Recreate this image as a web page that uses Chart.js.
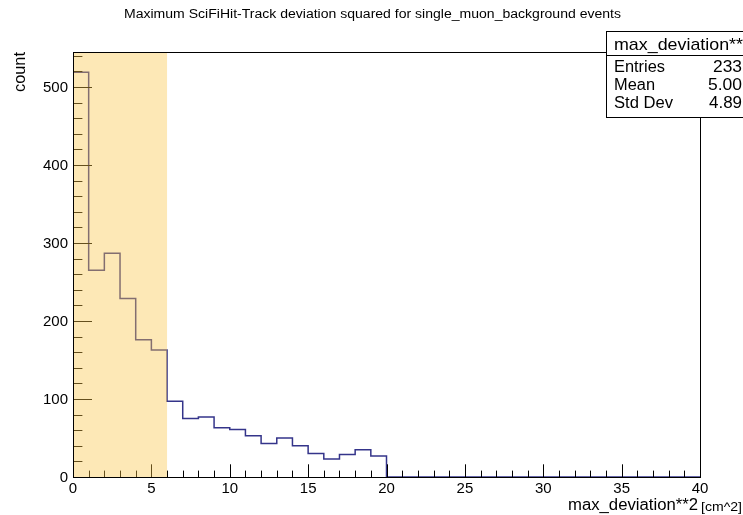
<!DOCTYPE html>
<html>
<head>
<meta charset="utf-8">
<script src="https://cdn.jsdelivr.net/npm/chart.js@4"></script>
<style>
  body { margin: 0; background: #fff; }
  canvas { display: block; }
</style>
</head>
<body>
<canvas id="histChart" width="743" height="515"></canvas>
<script>
// histogram contents, one bin per unit of max_deviation**2 (bins 0..19, rest empty)
const binCounts = [519, 265, 287, 229, 176, 163, 97, 75, 77, 63, 61, 53, 43, 50, 40, 30, 23, 29, 35, 27];
const xTickLabels = [0, 5, 10, 15, 20, 25, 30, 35, 40];
const yTickLabels = [0, 100, 200, 300, 400, 500];
const statNames = ['Entries', 'Mean', 'Std Dev'];
const statValues = ['233', '5.00', '4.89'];
const xMin = 0, xMax = 40, yMax = 545;
const bandStart = 0, bandEnd = 6;

// outline points at the bin edges
const points = [{ x: 0, y: 0 }];
binCounts.forEach((c, i) => points.push({ x: i, y: c }));
points.push({ x: binCounts.length, y: 0 });
points.push({ x: xMax, y: 0 });

const FONT = '"Liberation Sans", Arial, Helvetica, sans-serif';

// text stretched to a given width (ROOT's text runs a bit wider than Arial)
function fitText(ctx, text, x, y, width, size, align) {
  ctx.save();
  ctx.font = size + 'px ' + FONT;
  ctx.textAlign = 'left';
  ctx.textBaseline = 'alphabetic';
  const w = ctx.measureText(text).width;
  const k = width / w;
  let left = x;
  if (align === 'right') left = x - width;
  if (align === 'center') left = x - width / 2;
  ctx.translate(left, y);
  ctx.scale(k, 1);
  ctx.fillText(text, 0, 0);
  ctx.restore();
}

// axes, band and stats box in ROOT style
const rootStyle = {
  id: 'rootStyle',
  afterDatasetsDraw(chart) {
    const ctx = chart.ctx;
    const a = chart.chartArea;
    const xs = chart.scales.x, ys = chart.scales.y;
    ctx.save();

    // ticks (inside the frame)
    ctx.strokeStyle = '#000';
    ctx.lineWidth = 1;
    ctx.beginPath();
    for (let v = xMin; v <= xMax; v++) {
      const px = Math.round(xs.getPixelForValue(v)) + 0.5;
      const len = v % 5 === 0 ? 12.7 : 6.4;
      ctx.moveTo(px, a.bottom);
      ctx.lineTo(px, a.bottom - len);
    }
    for (let v = 0; v <= 540; v += 20) {
      const py = Math.round(ys.getPixelForValue(v)) + 0.5;
      const len = v % 100 === 0 ? 19 : 9.4;
      ctx.moveTo(a.left, py);
      ctx.lineTo(a.left + len, py);
    }
    ctx.stroke();

    // frame
    ctx.strokeRect(Math.round(a.left) + 0.5, Math.round(a.top) + 0.5,
      Math.round(a.right - a.left), Math.round(a.bottom - a.top));

    // highlighted band
    const bx0 = xs.getPixelForValue(bandStart), bx1 = xs.getPixelForValue(bandEnd);
    ctx.fillStyle = 'rgba(250, 197, 72, 0.4)';
    ctx.fillRect(bx0 + 1, a.top + 1, bx1 - bx0 - 1, a.bottom - a.top - 1);

    // tick labels
    ctx.fillStyle = '#000';
    ctx.font = '15px ' + FONT;
    ctx.textAlign = 'center';
    ctx.textBaseline = 'alphabetic';
    xTickLabels.forEach(v => {
      ctx.fillText(String(v), xs.getPixelForValue(v), a.bottom + 16);
    });
    ctx.textAlign = 'right';
    ctx.textBaseline = 'middle';
    yTickLabels.forEach(v => {
      ctx.fillText(String(v), a.left - 5, ys.getPixelForValue(v) + 1);
    });

    // axis titles
    fitText(ctx, 'max_deviation**2', 698, 510, 130, 16, 'right');
    fitText(ctx, '[cm^2]', 742, 511, 41, 13, 'right');

    ctx.save();
    ctx.translate(25, 52);
    ctx.rotate(-Math.PI / 2);
    fitText(ctx, 'count', 0, 0, 40, 16, 'right');
    ctx.restore();

    // title
    fitText(ctx, 'Maximum SciFiHit-Track deviation squared for single_muon_background events', 124, 18, 497, 12, 'left');

    // stats box
    const sx = 606.5, sy = 31.5, sw = 150, sh = 86;
    ctx.fillStyle = '#fff';
    ctx.fillRect(sx, sy, sw, sh);
    ctx.strokeStyle = '#000';
    ctx.strokeRect(sx, sy, sw, sh);
    ctx.beginPath();
    ctx.moveTo(sx, 55.5);
    ctx.lineTo(sx + sw, 55.5);
    ctx.stroke();
    ctx.fillStyle = '#000';
    fitText(ctx, 'max_deviation**', 614, 50, 129, 17, 'left');
    const nameW = [51, 41, 59];
    const valW = [29, 34, 33];
    statNames.forEach((n, i) => {
      const by = 72 + i * 18;
      fitText(ctx, n, 614, by, nameW[i], 16, 'left');
      fitText(ctx, statValues[i], 742, by, valW[i], 16, 'right');
    });

    ctx.restore();
  }
};

new Chart(document.getElementById('histChart'), {
  type: 'line',
  data: {
    datasets: [{
      data: points,
      borderColor: '#34348a',
      borderWidth: 1.5,
      pointRadius: 0,
      fill: false,
      stepped: 'before',
      tension: 0
    }]
  },
  options: {
    responsive: false,
    animation: false,
    layout: { padding: { left: 73, top: 52, right: 43, bottom: 38 } },
    plugins: { legend: { display: false }, tooltip: { enabled: false } },
    scales: {
      x: { type: 'linear', min: xMin, max: xMax, display: false },
      y: { type: 'linear', min: 0, max: yMax, display: false }
    }
  },
  plugins: [rootStyle]
});
</script>
</body>
</html>
